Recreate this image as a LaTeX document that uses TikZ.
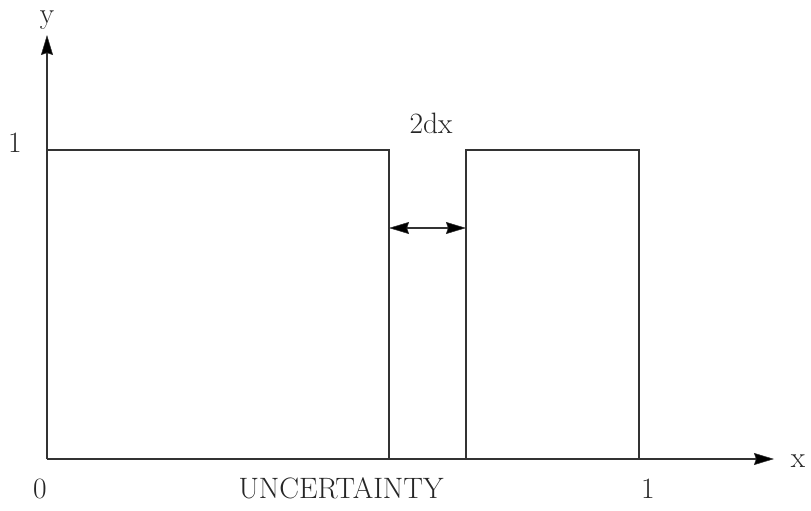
\documentclass[tikz,border=0pt]{standalone}
\usetikzlibrary{arrows.meta}
\begin{document}
\begin{tikzpicture}[x=1pt,y=-1pt,
  ln/.style={line width=1.3pt, draw=black!80},
  tip/.tip={Stealth[length=20pt,width=12pt,inset=2pt,fill=black,line width=0.5pt]},
  ax/.style={ln, -tip},
  dim/.style={ln, tip-tip},
  lbl/.style={font=\fontsize{29.5}{34}\selectfont, inner sep=0pt, anchor=base, text=black!85}]
\useasboundingbox (0,0) rectangle (811,511);
\coordinate (O) at (47,459);
\coordinate (ytop) at (47,35);
\coordinate (xend) at (774,459);
\draw[ax] (O) -- (ytop);
\draw[ax] (O) -- (xend);
\draw[ln] (O) -- (47,150) -- (389,150) -- (389,459);
\draw[ln] (466,459) -- (466,150) -- (639,150) -- (639,459);
\coordinate (a1) at (389,228);
\coordinate (a2) at (466,228);
\draw[dim] (a1) -- (a2);
\node[lbl] (ylab) at (47,24) {y};
\node[lbl] (one) at (15,152) {1};
\node[lbl] (dx) at (431,133) {2dx};
\node[lbl] (zero) at (40,498) {0};
\node[lbl] (unc) at (341,498) {UNCERTAINTY};
\node[lbl] (onex) at (648,498) {1};
\node[lbl] (xlab) at (798,467) {x};
\end{tikzpicture}
\end{document}
